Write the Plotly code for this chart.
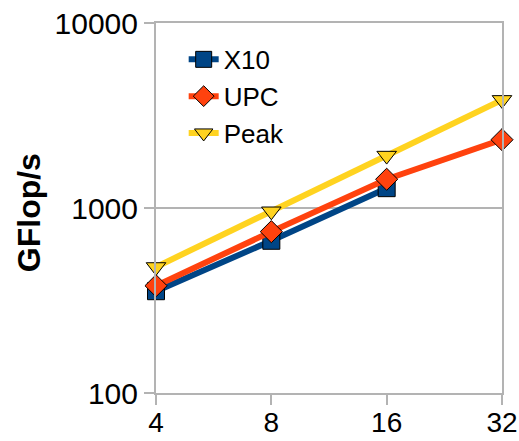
import plotly.graph_objects as go

categories = ["4", "8", "16", "32"]
x10 = [355, 665, 1280, None]
upc = [380, 745, 1430, 2340]
peak = [480, 960, 1920, 3840]

series = [
    ("X10", x10, "#004586", "square"),
    ("UPC", upc, "#ff420e", "diamond"),
    ("Peak", peak, "#ffd320", "triangle-down"),
]

fig = go.Figure()
for name, vals, color, sym in series:
    fig.add_trace(go.Scatter(
        x=categories, y=vals, name=name, mode="lines+markers",
        line=dict(color=color, width=6),
        marker=dict(symbol=sym, size=17, color=color, line=dict(color="#000000", width=1)),
        cliponaxis=False,
    ))

fig.update_layout(
    width=519, height=441,
    margin=dict(l=156, r=17, t=23, b=48, autoexpand=False),
    plot_bgcolor="white", paper_bgcolor="white",
    font=dict(family="Liberation Sans", color="#000000"),
    showlegend=True,
    legend=dict(x=0.08, y=0.965, xanchor="left", yanchor="top",
                font=dict(size=26), bgcolor="rgba(0,0,0,0)",
                tracegroupgap=0, itemwidth=30),
    annotations=[dict(
        text="<b>GFlop/s</b>", xref="paper", yref="paper",
        x=-0.367, y=0.486, xanchor="center", yanchor="middle",
        textangle=-90, showarrow=False,
        font=dict(size=32, family="Liberation Sans", color="#000000"),
    )],
)
fig.update_xaxes(
    type="category", range=[0, 3], automargin=False,
    showgrid=False, showline=True, linecolor="#b3b3b3", linewidth=2, mirror=True,
    ticks="outside", ticklen=10, tickcolor="#b3b3b3", tickwidth=2,
    tickfont=dict(size=28, family="Liberation Sans"),
    ticklabelstandoff=-7,
)
fig.update_yaxes(
    type="log", range=[2, 4], automargin=False,
    tickvals=[100, 1000, 10000], ticktext=["100", "1000", "10000"],
    showgrid=True, gridcolor="#b3b3b3", gridwidth=2,
    showline=True, linecolor="#b3b3b3", linewidth=2, mirror=True,
    ticks="outside", ticklen=10, tickcolor="#b3b3b3", tickwidth=2,
    tickfont=dict(size=30, family="Liberation Sans"),
    zeroline=False,
)

fig.write_html("out.html", config={"displayModeBar": False},
               post_script="document.body.style.margin='0';document.body.style.overflow='hidden';")
